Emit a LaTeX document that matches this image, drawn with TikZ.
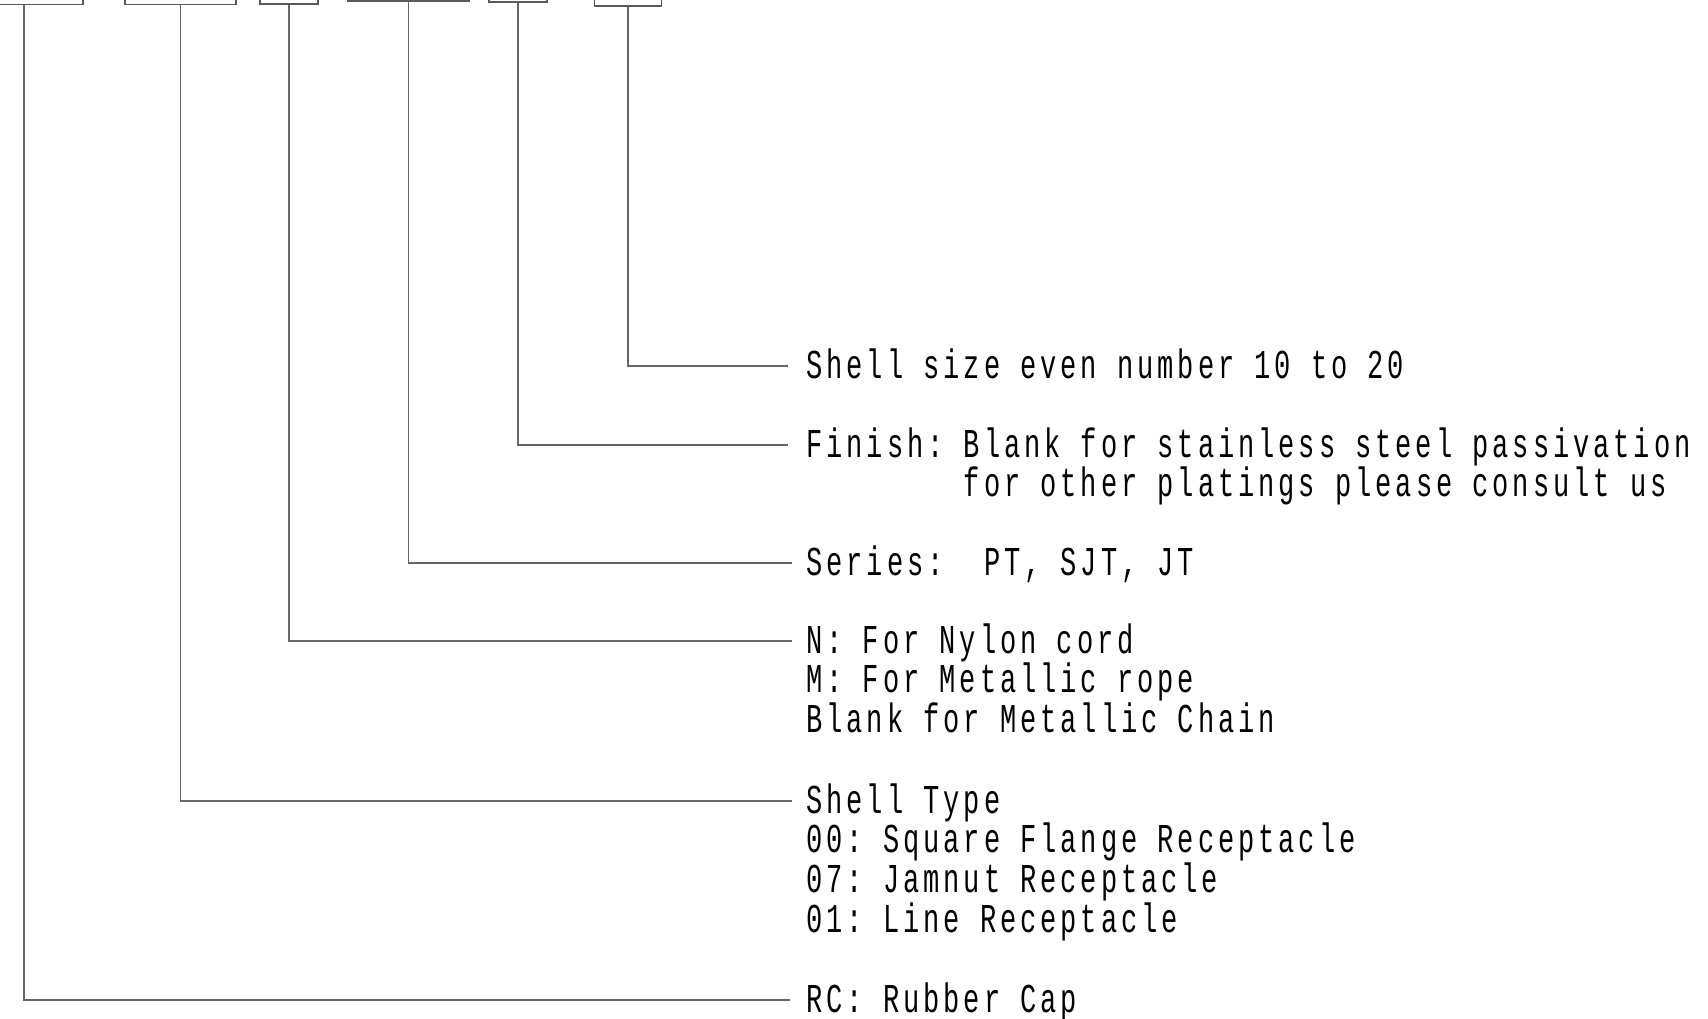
\documentclass[tikz,border=0pt]{standalone}
\usepackage{fontspec}
\setmonofont{Liberation Mono}[FakeStretch=0.66,LetterSpace=9.6]
\usetikzlibrary{positioning}
\tikzset{
  capbox/.style={draw=black!65,line width=.8pt,minimum height=40pt,inner sep=0pt,anchor=south},
  lbl/.style={font=\ttfamily\fontsize{20.5}{19.85}\selectfont,align=left,inner sep=0pt,anchor=base west},
  lead/.style={draw=black!60,line width=.8pt},
}

\begin{document}
\begin{tikzpicture}[x=.5pt,y=-.5pt]
    \useasboundingbox (0,0) rectangle (1708,1018);
    % part number boxes (cut at the top edge)
    \node[capbox,minimum width=59.5pt] (b1) at (23.7,5.3) {};
    \node[capbox,minimum width=55.5pt] (b2) at (180.5,5.3) {};
    \node[capbox,minimum width=29pt] (b3) at (289,5) {};
    \node[capbox,minimum width=60.5pt] (b4) at (408.5,2) {};
    \node[capbox,minimum width=29pt] (b5) at (518,3) {};
    \node[capbox,minimum width=33.5pt] (b6) at (628,7) {};
    % leader ends
    \coordinate (e6) at (788,366);
    \coordinate (e5) at (788,445);
    \coordinate (e4) at (792,563);
    \coordinate (e3) at (792,641);
    \coordinate (e2) at (792,801);
    \coordinate (e1) at (790,1000);
    % labels (base = last line)
    \node[lbl] (l6) at ([shift={(18,12)}]e6) {Shell size even number 10 to 20};
    \node[lbl] (l5) at ([shift={(18,51.7)}]e5) {Finish: Blank for stainless steel passivation\\
      \phantom{Finish:}\ for other platings please consult us};
    \node[lbl] (l4) at ([shift={(14,12)}]e4) {Series:\ \ PT, SJT, JT};
    \node[lbl] (l3) at ([shift={(14,91.4)}]e3) {N: For Nylon cord\\M: For Metallic rope\\Blank for Metallic Chain};
    \node[lbl] (l2) at ([shift={(14,131.1)}]e2) {Shell Type\\00: Square Flange Receptacle\\07: Jamnut Receptacle\\01: Line Receptacle};
    \node[lbl] (l1) at ([shift={(16,12)}]e1) {RC: Rubber Cap};
    % leaders
    \draw[lead] (b6.south) |- (e6);
    \draw[lead] (b5.south) |- (e5);
    \draw[lead] (b4.south) |- (e4);
    \draw[lead] (b3.south) |- (e3);
    \draw[lead] (b2.south) |- (e2);
    \draw[lead] (b1.south) |- (e1);
  \end{tikzpicture}
\end{document}
